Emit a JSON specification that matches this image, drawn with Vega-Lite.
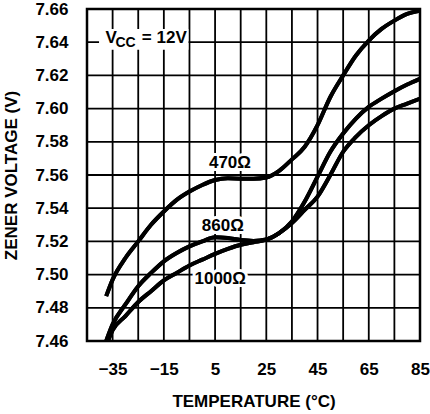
{
  "$schema": "https://vega.github.io/schema/vega-lite/v6.json",
  "width": 333,
  "height": 332,
  "autosize": "none",
  "padding": {"left": 87, "top": 9, "right": 10, "bottom": 73},
  "config": {
    "view": {"stroke": "black", "strokeWidth": 2.5},
    "font": "Liberation Sans",
    "axis": {
      "grid": false,
      "domain": false, "tickSize": 0, "tickOpacity": 0,
      "labelFont": "Liberation Sans", "labelFontWeight": "bold", "labelFontSize": 17, "labelColor": "black",
      "titleFont": "Liberation Sans", "titleFontWeight": "bold", "titleFontSize": 17, "titleColor": "black"
    }
  },
  "resolve": {"axis": {"x": "independent", "y": "independent"}},
  "datasets": {
    "gridx": [
      {"T": -45}, {"T": -35}, {"T": -25}, {"T": -15}, {"T": -5}, {"T": 5}, {"T": 15},
      {"T": 25}, {"T": 35}, {"T": 45}, {"T": 55}, {"T": 65}, {"T": 75}, {"T": 85}
    ],
    "gridy": [
      {"V": 7.46}, {"V": 7.48}, {"V": 7.5}, {"V": 7.52}, {"V": 7.54}, {"V": 7.56},
      {"V": 7.58}, {"V": 7.6}, {"V": 7.62}, {"V": 7.64}, {"V": 7.66}
    ],
    "curves": [
      {"T": -37.5, "V": 7.487, "R": "470"},
      {"T": -35, "V": 7.497, "R": "470"},
      {"T": -30, "V": 7.510, "R": "470"},
      {"T": -25, "V": 7.520, "R": "470"},
      {"T": -20, "V": 7.530, "R": "470"},
      {"T": -15, "V": 7.538, "R": "470"},
      {"T": -10, "V": 7.545, "R": "470"},
      {"T": -5, "V": 7.550, "R": "470"},
      {"T": 0, "V": 7.554, "R": "470"},
      {"T": 5, "V": 7.557, "R": "470"},
      {"T": 10, "V": 7.558, "R": "470"},
      {"T": 15, "V": 7.5578, "R": "470"},
      {"T": 20, "V": 7.5578, "R": "470"},
      {"T": 25, "V": 7.5585, "R": "470"},
      {"T": 30, "V": 7.5625, "R": "470"},
      {"T": 35, "V": 7.5694, "R": "470"},
      {"T": 40, "V": 7.577, "R": "470"},
      {"T": 45, "V": 7.590, "R": "470"},
      {"T": 50, "V": 7.607, "R": "470"},
      {"T": 55, "V": 7.620, "R": "470"},
      {"T": 60, "V": 7.632, "R": "470"},
      {"T": 65, "V": 7.641, "R": "470"},
      {"T": 70, "V": 7.648, "R": "470"},
      {"T": 75, "V": 7.653, "R": "470"},
      {"T": 80, "V": 7.657, "R": "470"},
      {"T": 85, "V": 7.659, "R": "470"},
      {"T": -37.5, "V": 7.460, "R": "860"},
      {"T": -35, "V": 7.470, "R": "860"},
      {"T": -30, "V": 7.482, "R": "860"},
      {"T": -25, "V": 7.493, "R": "860"},
      {"T": -20, "V": 7.501, "R": "860"},
      {"T": -15, "V": 7.508, "R": "860"},
      {"T": -10, "V": 7.513, "R": "860"},
      {"T": -5, "V": 7.517, "R": "860"},
      {"T": 0, "V": 7.520, "R": "860"},
      {"T": 5, "V": 7.5225, "R": "860"},
      {"T": 10, "V": 7.522, "R": "860"},
      {"T": 15, "V": 7.5208, "R": "860"},
      {"T": 20, "V": 7.5203, "R": "860"},
      {"T": 25, "V": 7.5212, "R": "860"},
      {"T": 30, "V": 7.525, "R": "860"},
      {"T": 35, "V": 7.532, "R": "860"},
      {"T": 40, "V": 7.544, "R": "860"},
      {"T": 45, "V": 7.559, "R": "860"},
      {"T": 50, "V": 7.574, "R": "860"},
      {"T": 55, "V": 7.585, "R": "860"},
      {"T": 60, "V": 7.594, "R": "860"},
      {"T": 65, "V": 7.601, "R": "860"},
      {"T": 70, "V": 7.606, "R": "860"},
      {"T": 75, "V": 7.6105, "R": "860"},
      {"T": 80, "V": 7.6145, "R": "860"},
      {"T": 85, "V": 7.618, "R": "860"},
      {"T": -36.8, "V": 7.460, "R": "1000"},
      {"T": -35, "V": 7.4665, "R": "1000"},
      {"T": -30, "V": 7.475, "R": "1000"},
      {"T": -25, "V": 7.4835, "R": "1000"},
      {"T": -20, "V": 7.490, "R": "1000"},
      {"T": -15, "V": 7.4965, "R": "1000"},
      {"T": -10, "V": 7.501, "R": "1000"},
      {"T": -5, "V": 7.5055, "R": "1000"},
      {"T": 0, "V": 7.509, "R": "1000"},
      {"T": 5, "V": 7.5125, "R": "1000"},
      {"T": 10, "V": 7.5155, "R": "1000"},
      {"T": 15, "V": 7.518, "R": "1000"},
      {"T": 20, "V": 7.5195, "R": "1000"},
      {"T": 25, "V": 7.521, "R": "1000"},
      {"T": 30, "V": 7.525, "R": "1000"},
      {"T": 35, "V": 7.531, "R": "1000"},
      {"T": 40, "V": 7.539, "R": "1000"},
      {"T": 45, "V": 7.547, "R": "1000"},
      {"T": 50, "V": 7.560, "R": "1000"},
      {"T": 55, "V": 7.574, "R": "1000"},
      {"T": 60, "V": 7.583, "R": "1000"},
      {"T": 65, "V": 7.590, "R": "1000"},
      {"T": 70, "V": 7.5955, "R": "1000"},
      {"T": 75, "V": 7.600, "R": "1000"},
      {"T": 80, "V": 7.603, "R": "1000"},
      {"T": 85, "V": 7.606, "R": "1000"}
    ],
    "labels": [
      {"T": 10.8, "V": 7.5644, "label": "470Ω"},
      {"T": 8, "V": 7.5264, "label": "860Ω"},
      {"T": 7, "V": 7.4944, "label": "1000Ω"}
    ],
    "box": [
      {"T": -40.3, "T2": -5.4, "V": 7.6354, "V2": 7.6479}
    ],
    "vcc": [
      {"T": -37.8, "V": 7.6398, "label": "V"},
      {"T": -23.6, "V": 7.6398, "label": "= 12V"}
    ],
    "vccsub": [
      {"T": -33.9, "V": 7.6372, "label": "CC"}
    ]
  },
  "layer": [
    {
      "data": {"name": "curves"},
      "mark": {"type": "line", "color": "black", "strokeWidth": 4, "interpolate": "monotone", "strokeCap": "butt", "clip": true},
      "encoding": {
        "x": {
          "field": "T", "type": "quantitative",
          "scale": {"domain": [-45, 85], "nice": false, "zero": false},
          "axis": {
            "values": [-45, -35, -25, -15, -5, 5, 15, 25, 35, 45, 55, 65, 75, 85],
            "labelExpr": "(datum.value + 35) % 20 == 0 ? datum.label : ''",
            "labelFlush": false,
            "labelOverlap": false,
            "labelPadding": 20,
            "titlePadding": 16,
            "title": "TEMPERATURE (°C)"
          }
        },
        "y": {
          "field": "V", "type": "quantitative",
          "scale": {"domain": [7.46, 7.66], "nice": false, "zero": false},
          "axis": {
            "values": [7.46, 7.48, 7.5, 7.52, 7.54, 7.56, 7.58, 7.6, 7.62, 7.64, 7.66],
            "format": ".2f",
            "labelOverlap": false,
            "labelPadding": 19,
            "titlePadding": 14,
            "title": "ZENER VOLTAGE (V)"
          }
        },
        "detail": {"field": "R", "type": "nominal"}
      }
    },
    {
      "data": {"name": "gridx"},
      "mark": {"type": "rule", "color": "#000000", "strokeWidth": 1.8, "opacity": 1},
      "encoding": {
        "x": {"field": "T", "type": "quantitative", "axis": null}
      }
    },
    {
      "data": {"name": "gridy"},
      "mark": {"type": "rule", "color": "#000000", "strokeWidth": 1.8, "opacity": 1},
      "encoding": {
        "y": {"field": "V", "type": "quantitative", "axis": null}
      }
    },
    {
      "data": {"name": "box"},
      "mark": {"type": "rect", "color": "white"},
      "encoding": {
        "x": {"field": "T", "type": "quantitative", "axis": null},
        "x2": {"field": "T2"},
        "y": {"field": "V", "type": "quantitative", "axis": null},
        "y2": {"field": "V2"}
      }
    },
    {
      "data": {"name": "labels"},
      "mark": {"type": "text", "font": "Liberation Sans", "fontWeight": "bold", "fontSize": 17, "align": "center", "baseline": "alphabetic", "stroke": "white", "strokeWidth": 6, "fill": "white"},
      "encoding": {
        "x": {"field": "T", "type": "quantitative", "axis": null},
        "y": {"field": "V", "type": "quantitative", "axis": null},
        "text": {"field": "label"}
      }
    },
    {
      "data": {"name": "curves"},
      "mark": {"type": "line", "color": "black", "strokeWidth": 4, "interpolate": "monotone", "strokeCap": "butt", "clip": true},
      "encoding": {
        "x": {"field": "T", "type": "quantitative", "axis": null},
        "y": {"field": "V", "type": "quantitative", "axis": null},
        "detail": {"field": "R", "type": "nominal"}
      }
    },
    {
      "data": {"name": "labels"},
      "mark": {"type": "text", "font": "Liberation Sans", "fontWeight": "bold", "fontSize": 17, "align": "center", "baseline": "alphabetic", "color": "black"},
      "encoding": {
        "x": {"field": "T", "type": "quantitative", "axis": null},
        "y": {"field": "V", "type": "quantitative", "axis": null},
        "text": {"field": "label"}
      }
    },
    {
      "data": {"name": "vcc"},
      "mark": {"type": "text", "font": "Liberation Sans", "fontWeight": "bold", "fontSize": 17, "align": "left", "baseline": "alphabetic", "color": "black"},
      "encoding": {
        "x": {"field": "T", "type": "quantitative", "axis": null},
        "y": {"field": "V", "type": "quantitative", "axis": null},
        "text": {"field": "label"}
      }
    },
    {
      "data": {"name": "vccsub"},
      "mark": {"type": "text", "font": "Liberation Sans", "fontWeight": "bold", "fontSize": 14, "align": "left", "baseline": "alphabetic", "color": "black"},
      "encoding": {
        "x": {"field": "T", "type": "quantitative", "axis": null},
        "y": {"field": "V", "type": "quantitative", "axis": null},
        "text": {"field": "label"}
      }
    }
  ]
}
